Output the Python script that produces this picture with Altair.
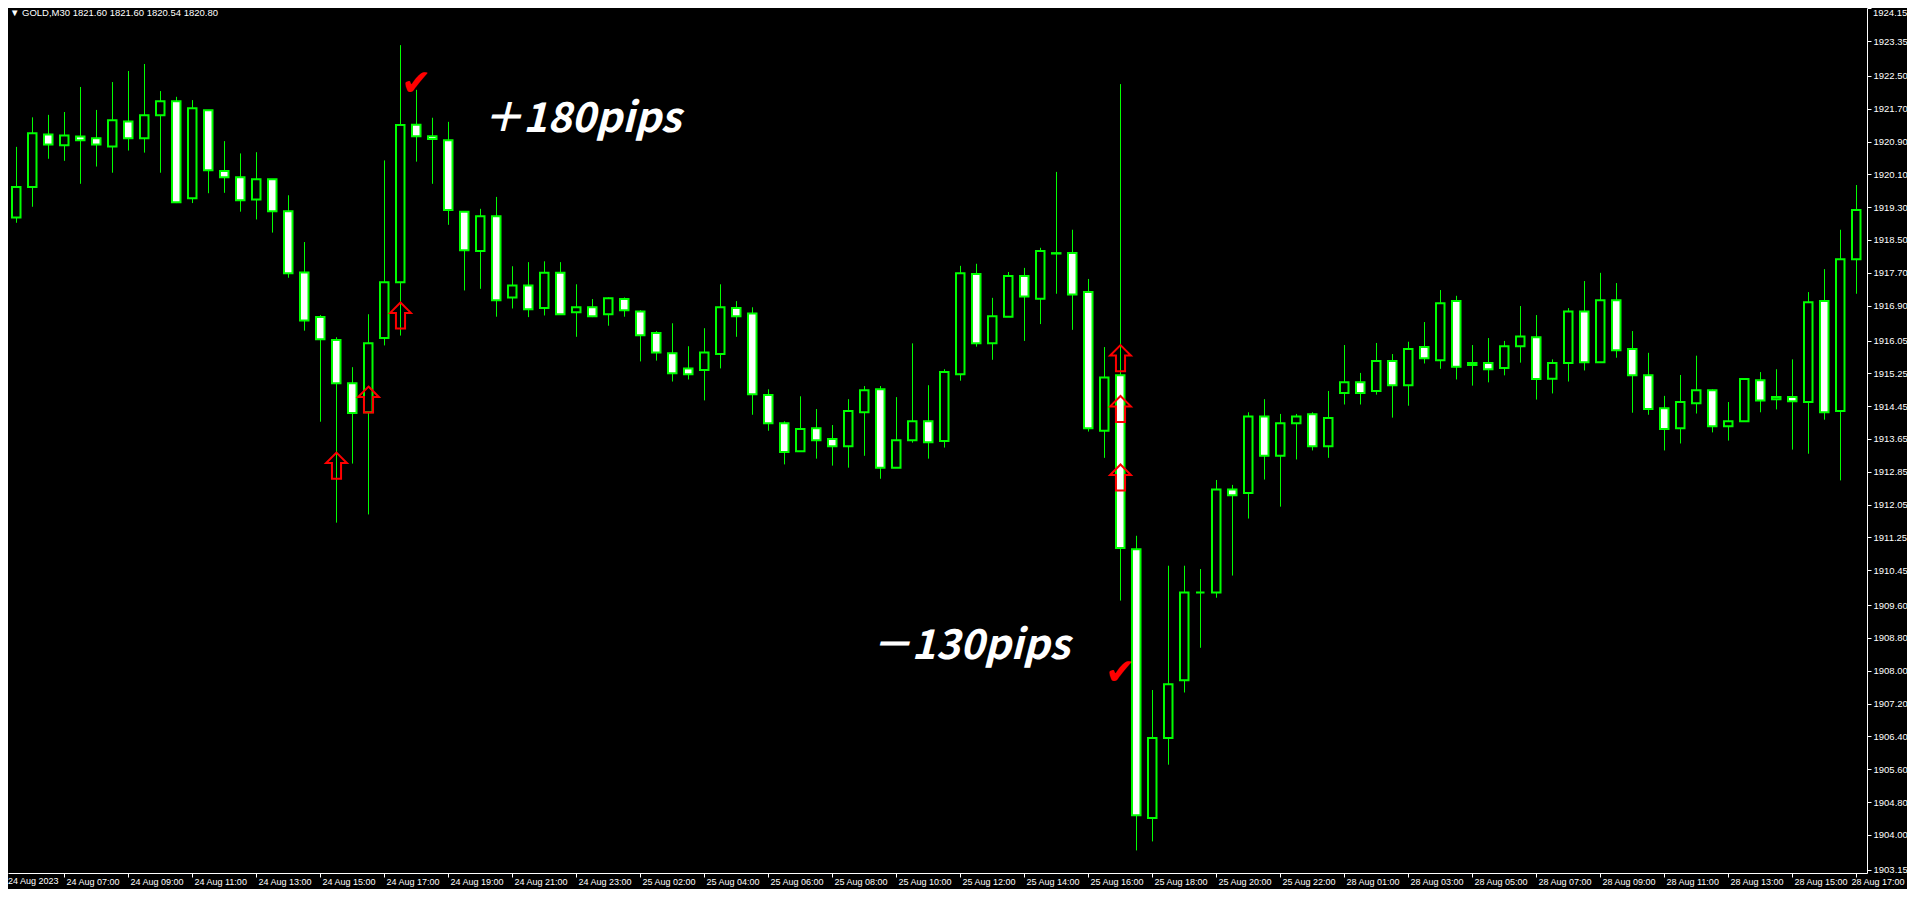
import json
import altair as alt
import pandas as pd

# ---------------- data (GOLD M30, 24-28 Aug 2023) ----------------
bar_index = list(range(117))
opens = [1918.69, 1919.05, 1919.79, 1921.07, 1920.81, 1921.02, 1920.98, 1920.78, 1921.39, 1920.98,
         1921.54, 1921.88, 1919.52, 1921.66, 1920.18, 1920.03, 1919.49, 1919.98, 1919.20, 1917.71,
         1916.62, 1916.06, 1915.01, 1914.30, 1916.11, 1917.47, 1921.31, 1921.03, 1920.93, 1919.19,
         1918.23, 1919.08, 1917.10, 1917.39, 1916.84, 1917.70, 1916.74, 1916.86, 1916.69, 1917.06,
         1916.76, 1916.23, 1915.74, 1915.37, 1915.33, 1915.72, 1916.84, 1916.71, 1914.72, 1914.03,
         1913.35, 1913.91, 1913.65, 1913.47, 1914.30, 1914.86, 1912.95, 1913.62, 1914.08, 1913.60,
         1915.23, 1917.67, 1915.98, 1916.63, 1917.62, 1917.07, 1918.17, 1918.18, 1917.23, 1913.85,
         1915.20, 1910.96, 1904.41, 1906.36, 1907.77, 1909.91, 1909.91, 1912.42, 1912.33, 1914.20,
         1913.24, 1914.03, 1914.25, 1913.47, 1914.77, 1915.03, 1914.82, 1915.55, 1914.96, 1915.89,
         1915.57, 1917.01, 1915.50, 1915.50, 1915.38, 1915.91, 1916.13, 1915.12, 1915.50, 1916.76,
         1915.52, 1917.03, 1915.84, 1915.20, 1914.40, 1913.91, 1914.52, 1914.84, 1913.96, 1914.08,
         1915.08, 1914.62, 1914.67, 1914.55, 1917.01, 1914.33, 1918.03]
highs = [1920.07, 1920.77, 1921.49, 1921.55, 1921.62, 1922.23, 1921.67, 1922.35, 1922.62, 1922.79,
         1922.13, 1921.99, 1921.91, 1921.66, 1920.91, 1920.61, 1920.64, 1919.98, 1919.59, 1918.45,
         1916.67, 1916.13, 1915.40, 1916.69, 1920.44, 1923.25, 1922.16, 1921.48, 1921.38, 1919.19,
         1919.26, 1919.55, 1917.86, 1917.96, 1917.98, 1917.96, 1917.42, 1917.06, 1917.10, 1917.10,
         1916.79, 1916.28, 1916.47, 1915.91, 1916.35, 1917.42, 1917.01, 1916.86, 1914.86, 1914.08,
         1914.69, 1914.38, 1913.99, 1914.62, 1914.94, 1914.94, 1914.67, 1915.98, 1914.96, 1915.35,
         1917.87, 1917.92, 1917.09, 1917.72, 1917.82, 1918.31, 1920.16, 1918.75, 1917.55, 1915.89,
         1922.30, 1911.29, 1907.53, 1910.56, 1910.56, 1910.48, 1912.65, 1912.53, 1914.30, 1914.62,
         1914.26, 1914.26, 1914.30, 1914.82, 1915.94, 1915.26, 1915.99, 1915.72, 1916.02, 1916.50,
         1917.28, 1917.14, 1915.94, 1916.11, 1916.04, 1916.89, 1916.67, 1915.59, 1916.84, 1917.50,
         1917.70, 1917.45, 1916.28, 1915.75, 1914.70, 1915.21, 1915.68, 1914.86, 1914.55, 1915.11,
         1915.28, 1915.35, 1915.59, 1917.23, 1917.79, 1918.75, 1919.84]
lows = [1918.58, 1918.92, 1919.31, 1920.48, 1920.43, 1919.87, 1920.29, 1920.14, 1920.68, 1920.63,
        1920.14, 1919.40, 1919.40, 1919.64, 1919.65, 1919.19, 1919.00, 1918.68, 1917.58, 1916.29,
        1914.07, 1911.61, 1913.05, 1911.81, 1915.93, 1916.17, 1920.41, 1919.87, 1918.87, 1917.27,
        1917.31, 1916.63, 1916.83, 1916.62, 1916.66, 1916.69, 1916.14, 1916.62, 1916.41, 1916.63,
        1915.54, 1915.56, 1915.05, 1915.10, 1914.59, 1915.37, 1916.14, 1914.24, 1913.85, 1913.03,
        1913.35, 1913.17, 1913.00, 1912.95, 1913.24, 1912.68, 1912.95, 1913.56, 1913.17, 1913.44,
        1915.07, 1915.90, 1915.58, 1916.63, 1916.04, 1916.45, 1917.19, 1916.31, 1913.83, 1913.19,
        1909.71, 1903.62, 1903.84, 1905.71, 1907.47, 1908.56, 1909.78, 1910.32, 1911.71, 1912.66,
        1912.00, 1913.15, 1913.37, 1913.19, 1914.49, 1914.49, 1914.73, 1914.17, 1914.46, 1915.49,
        1915.36, 1915.10, 1914.95, 1915.03, 1915.20, 1915.51, 1914.61, 1914.76, 1915.05, 1915.32,
        1915.52, 1915.63, 1914.29, 1914.24, 1913.37, 1913.54, 1914.27, 1913.81, 1913.61, 1914.08,
        1914.30, 1914.37, 1913.39, 1913.29, 1914.12, 1912.64, 1917.19]
closes = [1919.09, 1919.79, 1921.10, 1920.83, 1921.05, 1920.93, 1920.83, 1921.42, 1920.98, 1921.54,
          1921.88, 1919.42, 1921.71, 1920.20, 1920.03, 1919.47, 1919.98, 1919.20, 1917.69, 1916.54,
          1916.08, 1915.01, 1914.28, 1915.98, 1917.47, 1921.30, 1921.03, 1920.96, 1919.23, 1918.25,
          1919.08, 1917.03, 1917.39, 1916.81, 1917.70, 1916.69, 1916.86, 1916.64, 1917.08, 1916.79,
          1916.18, 1915.76, 1915.25, 1915.23, 1915.76, 1916.86, 1916.64, 1914.74, 1914.03, 1913.33,
          1913.89, 1913.62, 1913.47, 1914.33, 1914.84, 1912.95, 1913.62, 1914.08, 1913.57, 1915.28,
          1917.69, 1915.98, 1916.64, 1917.62, 1917.12, 1918.23, 1918.18, 1917.17, 1913.91, 1915.15,
          1910.99, 1904.48, 1906.36, 1907.67, 1909.91, 1909.91, 1912.42, 1912.28, 1914.20, 1913.24,
          1914.03, 1914.20, 1913.47, 1914.16, 1915.03, 1914.77, 1915.55, 1914.96, 1915.84, 1915.62,
          1916.96, 1915.41, 1915.45, 1915.35, 1915.91, 1916.15, 1915.11, 1915.50, 1916.76, 1915.52,
          1917.03, 1915.81, 1915.20, 1914.38, 1913.89, 1914.55, 1914.84, 1913.96, 1914.08, 1915.11,
          1914.59, 1914.67, 1914.57, 1916.98, 1914.30, 1918.03, 1919.23]

y_tick_values = [1924.15, 1923.35, 1922.50, 1921.70, 1920.90, 1920.10, 1919.30, 1918.50, 1917.70,
                 1916.90, 1916.05, 1915.25, 1914.45, 1913.65, 1912.85, 1912.05, 1911.25, 1910.45,
                 1909.60, 1908.80, 1908.00, 1907.20, 1906.40, 1905.60, 1904.80, 1904.00, 1903.15]
x_tick_index = list(range(0, 117, 4))
x_tick_labels = ["24 Aug 2023", "24 Aug 07:00", "24 Aug 09:00", "24 Aug 11:00", "24 Aug 13:00",
                 "24 Aug 15:00", "24 Aug 17:00", "24 Aug 19:00", "24 Aug 21:00", "24 Aug 23:00",
                 "25 Aug 02:00", "25 Aug 04:00", "25 Aug 06:00", "25 Aug 08:00", "25 Aug 10:00",
                 "25 Aug 12:00", "25 Aug 14:00", "25 Aug 16:00", "25 Aug 18:00", "25 Aug 20:00",
                 "25 Aug 22:00", "28 Aug 01:00", "28 Aug 03:00", "28 Aug 05:00", "28 Aug 07:00",
                 "28 Aug 09:00", "28 Aug 11:00", "28 Aug 13:00", "28 Aug 15:00", "28 Aug 17:00"]

pips_labels = ["＋180pips", "－130pips"]
pips_index = [36.34, 60.63]
pips_price = [1921.43, 1908.58]

arrow_index = [21, 23, 25, 70, 70, 70]
arrow_price = [1913.00, 1914.61, 1916.66, 1915.62, 1914.38, 1912.71]

check_index = [26.0, 70.0]
check_price = [1922.30, 1907.95]

header_text = "▼ GOLD,M30  1821.60 1821.60 1820.54 1820.80"

# ---------------- chart ----------------
W, H = 1859, 865
GREEN = "#00ff00"
FONT = "Liberation Sans"
FS = 9.5
FSX = 9

candles = pd.DataFrame({"i": bar_index, "open": opens, "high": highs,
                        "low": lows, "close": closes})
candles["body"] = ["white" if c < o else "black" for o, c in zip(opens, closes)]

xs = alt.Scale(domain=[0.5, 116.6875], nice=False, zero=False)
ys = alt.Scale(domain=[1903.07, 1924.155], nice=False, zero=False)

x_label_expr = json.dumps(x_tick_labels) + "[round(datum.value / 4)]"
x_axis = alt.Axis(values=x_tick_index[1:], labelExpr=x_label_expr, orient="bottom",
                  labelAlign="left", labelBaseline="top", tickSize=4, labelPadding=0,
                  labelFontSize=FSX,
                  labelOffset={"condition": {"test": "datum.value > 115", "value": -5},
                               "value": 2},
                  title=None)
y_axis = alt.Axis(values=y_tick_values, orient="right", tickSize=4, labelPadding=2,
                  labelFontSize=FS,
                  labelExpr="datum.value > 1924 ? '' : format(datum.value, '.2f')",
                  title=None)


def X(field):
    return alt.X(field, scale=xs, axis=x_axis, title=None)


def Y(field):
    return alt.Y(field, scale=ys, axis=y_axis, title=None)


base = alt.Chart(candles)

wicks = base.mark_rule(color=GREEN, strokeWidth=1, clip=True, xOffset=0.5).encode(
    x=X("i:Q"), y=Y("low:Q"), y2="high:Q",
)

bodies = base.transform_calculate(
    xl="datum.i - 0.28125", xr="datum.i + 0.28125"
).mark_rect(stroke=GREEN, strokeWidth=2, clip=True, xOffset=0.5).encode(
    x=X("xl:Q"), x2="xr:Q",
    y=Y("open:Q"), y2="close:Q",
    fill=alt.Fill("body:N", scale=None, legend=None),
)

arrow_path = "M0,-1 L0.8,-0.2 L0.35,-0.2 L0.35,1 L-0.35,1 L-0.35,-0.2 L-0.8,-0.2 Z"
arrows = alt.Chart(pd.DataFrame({"i": arrow_index, "p": arrow_price})).mark_point(
    shape=arrow_path, size=676, filled=False, color="#ff0000", strokeWidth=2,
    opacity=1, xOffset=0.5,
).encode(x=X("i:Q"), y=Y("p:Q"))

checks = alt.Chart(pd.DataFrame({"i": check_index, "p": check_price, "t": ["✔", "✔"]})).mark_text(
    color="#ff0000", font="DejaVu Sans", fontSize=36, align="center", baseline="middle",
).encode(x=X("i:Q"), y=Y("p:Q"), text="t:N")

pips = alt.Chart(pd.DataFrame({"i": pips_index, "p": pips_price, "t": pips_labels})).mark_text(
    color="white", font="Noto Sans CJK JP", fontSize=41, fontWeight="bold", fontStyle="italic",
    align="center", baseline="middle",
).encode(x=X("i:Q"), y=Y("p:Q"), text="t:N")

header = alt.Chart(pd.DataFrame({"t": [header_text]})).mark_text(
    color="white", font=FONT, fontSize=FS, align="left", baseline="top",
).encode(x=alt.value(2), y=alt.value(0), text="t:N")

first_label = alt.Chart(pd.DataFrame({"t": [x_tick_labels[0]]})).mark_text(
    color="white", font=FONT, fontSize=FSX, align="left", baseline="top",
).encode(x=alt.value(0), y=alt.value(H + 4), text="t:N")

top_price = alt.Chart(pd.DataFrame({"t": ["%.2f" % y_tick_values[0]]})).mark_text(
    color="white", font=FONT, fontSize=FS, align="left", baseline="top",
).encode(x=alt.value(W + 6), y=alt.value(0), text="t:N")

chart = alt.layer(wicks, bodies, arrows, checks, pips, header, first_label, top_price).properties(
    width=W, height=H, background="black",
    padding={"left": 0, "top": 0, "right": 40, "bottom": 16},
    autosize=alt.AutoSizeParams(type="none"),
).configure_axis(
    grid=False, domainColor="white", domainWidth=1, tickColor="white", tickWidth=1,
    labelColor="white", labelFont=FONT, labelOverlap=False,
    labelFlush=False,
).configure_view(stroke=None)

chart.save("out.html", embed_options={"renderer": "svg", "actions": False})
